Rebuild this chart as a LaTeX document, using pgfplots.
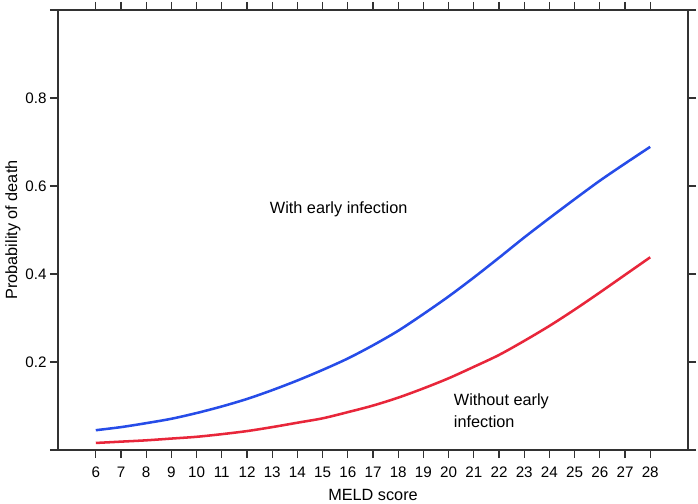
\documentclass[border=0pt]{standalone}
\usepackage{pgfplots}
\pgfplotsset{compat=1.18}
\usepackage{fontspec}
\setmainfont{Liberation Sans}

\definecolor{withinf}{RGB}{38,76,232}
\definecolor{withoutinf}{RGB}{232,38,58}
\definecolor{axisgray}{RGB}{50,50,50}

% predicted probability of death vs MELD score
\pgfplotstableread{
meld  p
6     0.045
7     0.052
8     0.061
9     0.071
10    0.084
11    0.099
12    0.116
13    0.136
14    0.158
15    0.182
16    0.208
17    0.238
18    0.271
19    0.309
20    0.349
21    0.392
22    0.437
23    0.483
24    0.527
25    0.570
26    0.612
27    0.651
28    0.689
}\withearly

\pgfplotstableread{
meld  p
6     0.016
7     0.019
8     0.022
9     0.026
10    0.030
11    0.036
12    0.043
13    0.052
14    0.062
15    0.072
16    0.086
17    0.101
18    0.119
19    0.140
20    0.163
21    0.189
22    0.216
23    0.248
24    0.282
25    0.319
26    0.358
27    0.398
28    0.438
}\withoutearly

\newcommand{\tickfont}{\fontsize{11.4}{13}\selectfont}

\begin{document}
\begin{tikzpicture}
  \begin{axis}[%
      width=472.5pt,
      height=330pt,
      scale only axis,
      xmin=4.5, xmax=29.5,
      ymin=0, ymax=1,
      xtick={6,7,...,28},
      ytick={0,0.2,0.4,0.6,0.8,1},
      yticklabels={,0.2,0.4,0.6,0.8,},
      tick align=outside,
      tick pos=both,
      xticklabel pos=lower,
      yticklabel pos=left,
      major tick length=6pt,
      axis line style={axisgray, line width=1pt},
      every tick/.style={axisgray, line width=1pt},
      /pgf/number format/assume math mode=true,
      xticklabel style={font=\tickfont, yshift=-3.5pt},
      yticklabel style={font=\tickfont, xshift=1pt},
      label style={font=\fontsize{12.2}{14}\selectfont},
      xlabel={MELD score},
      ylabel={Probability of death},
      xlabel style={at={(axis description cs:0.5,0)}, anchor=north, yshift=-26pt},
      ylabel style={at={(axis description cs:0,0.5)}, anchor=south, yshift=24.5pt},
    ]

    \addplot [color=withinf, line width=1.9pt, smooth, no markers]
      table [x=meld, y=p] {\withearly};

    \addplot [color=withoutinf, line width=1.9pt, smooth, no markers]
      table [x=meld, y=p] {\withoutearly};

    \node [anchor=west, inner sep=0pt, font=\fontsize{12.2}{14}\selectfont]
      at (axis cs:12.9,0.546) {With early infection};
    \node [anchor=west, inner sep=0pt, align=left, font=\fontsize{12.2}{16.5}\selectfont]
      at (axis cs:20.2,0.089) {Without early\\infection};
  \end{axis}
  \pgfresetboundingbox
  \path ([xshift=-43.5pt,yshift=-39.75pt]current axis.south west)
    rectangle ([xshift=7.5pt,yshift=7.5pt]current axis.north east);
\end{tikzpicture}
\end{document}
